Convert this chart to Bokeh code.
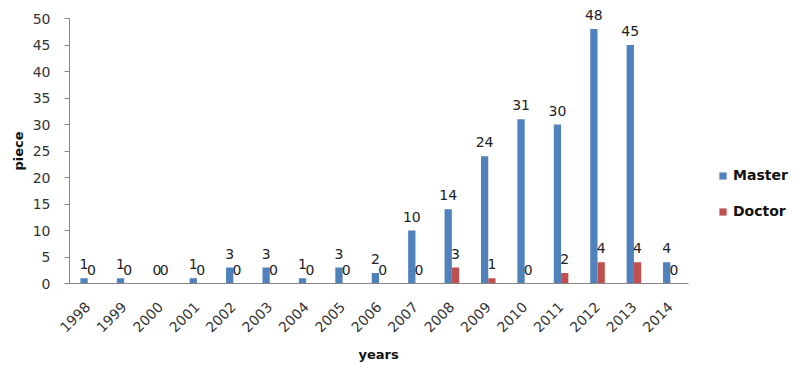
from bokeh.plotting import figure
from bokeh.models import (ColumnDataSource, Range1d, LabelSet, Legend, LegendItem,
                          SingleIntervalTicker, FixedTicker, Title)
from bokeh.core.properties import value
from bokeh.transform import dodge
from bokeh.embed import file_html
from bokeh.resources import INLINE
import math

years = ["1998", "1999", "2000", "2001", "2002", "2003", "2004", "2005", "2006",
         "2007", "2008", "2009", "2010", "2011", "2012", "2013", "2014"]
master = [1, 1, 0, 1, 3, 3, 1, 3, 2, 10, 14, 24, 31, 30, 48, 45, 4]
doctor = [0, 0, 0, 0, 0, 0, 0, 0, 0, 0, 3, 1, 0, 2, 4, 4, 0]
pos = list(range(len(years)))

src = ColumnDataSource(dict(pos=pos, years=years, master=master, doctor=doctor,
                            master_txt=[str(v) for v in master],
                            doctor_txt=[str(v) for v in doctor]))

FONT = "DejaVu Sans"

p = figure(x_range=Range1d(-0.5, 19.3), y_range=Range1d(0, 53.4),
           width=790, height=368, output_backend="svg", toolbar_location=None,
           min_border_left=69, min_border_right=0, min_border_top=0, min_border_bottom=85)
p.outline_line_color = None
p.xgrid.grid_line_color = None
p.ygrid.grid_line_color = None

r_m = p.vbar(x=dodge("pos", -0.1), top="master", width=0.2,
             source=src, fill_color="#4F81BD", line_color=None)
r_d = p.vbar(x=dodge("pos", 0.1), top="doctor", width=0.2,
             source=src, fill_color="#C0504D", line_color=None)

for col, off in (("master", -0.1), ("doctor", 0.1)):
    lab = LabelSet(x=dodge("pos", off), y=col, text=col + "_txt",
                   source=src, y_offset=9, text_align="center", text_baseline="bottom",
                   text_font=value(FONT), text_font_size="14px", text_color="#222222")
    p.add_layout(lab)

p.yaxis.ticker = SingleIntervalTicker(interval=5)
p.yaxis.bounds = (0, 50)
p.xaxis.ticker = FixedTicker(ticks=pos)
p.xaxis.major_label_overrides = {i: y for i, y in zip(pos, years)}
p.xaxis.bounds = (-0.5, len(years) - 0.5)
for ax in (p.xaxis[0], p.yaxis[0]):
    ax.axis_line_color = "#868686"
    ax.major_tick_line_color = "#868686"
    ax.minor_tick_line_color = None
    ax.major_label_text_font = FONT
    ax.major_label_text_font_size = "14px"
    ax.major_label_text_color = "#333333"

p.yaxis.major_tick_out = 5
p.yaxis.major_tick_in = 0
p.yaxis.major_label_standoff = 14

p.xaxis.major_tick_out = 0
p.xaxis.major_tick_in = 0
p.xaxis.major_label_orientation = math.pi / 4
p.xaxis.major_label_standoff = 21

# axis titles as panel titles, offset so they centre on the plotted region
ylab = Title(text="piece", align="left", offset=113, standoff=8,
             text_font=FONT, text_font_style="bold", text_font_size="13px", text_color="#111111")
p.add_layout(ylab, "left")
xlab = Title(text="years", align="left", offset=289, standoff=10,
             text_font=FONT, text_font_style="bold", text_font_size="13px", text_color="#111111")
p.add_layout(xlab, "below")

legend = Legend(items=[LegendItem(label="Master", renderers=[r_m]),
                       LegendItem(label="Doctor", renderers=[r_d])],
                location=(649, 64), orientation="vertical",
                glyph_width=9, glyph_height=9, spacing=20, padding=0, margin=0,
                label_text_font=FONT, label_text_font_style="bold",
                label_text_font_size="14px", label_text_color="#111111",
                label_standoff=6, border_line_color=None, background_fill_alpha=0)
p.add_layout(legend, "center")

open("out.html", "w").write(file_html(p, INLINE))
